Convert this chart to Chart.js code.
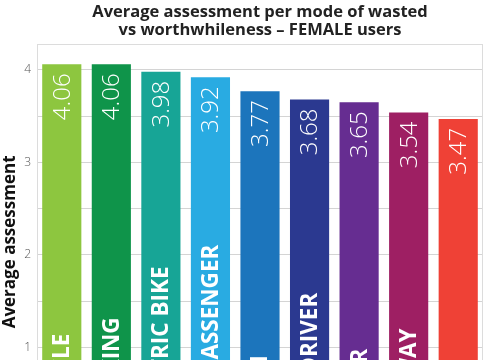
<!DOCTYPE html>
<html>
<head>
<meta charset="utf-8">
<script src="https://cdn.jsdelivr.net/npm/chart.js@4.4.1/dist/chart.umd.min.js"></script>
<style>
  html, body { margin: 0; padding: 0; background: #fff; overflow: hidden; }
  #wrap { width: 485px; height: 453px; position: relative; }
</style>
</head>
<body>
<div id="wrap"><canvas id="chart"></canvas></div>
<script>
// modes, sorted by average assessment
const modes = ["BICYCLE", "WALKING", "ELECTRIC BIKE", "CAR PASSENGER", "TRAIN", "CAR DRIVER", "OTHER", "SUBWAY", "BUS"];
const averages = [4.06, 4.06, 3.98, 3.92, 3.77, 3.68, 3.65, 3.54, 3.47];
const barColors = ["#8dc63f", "#0f944a", "#17a596", "#29abe2", "#1c75bc", "#2b3990", "#662d91", "#9e1f63", "#ef4136"];
const titleLines = ["Average assessment per mode of wasted", "vs worthwhileness \u2013 FEMALE users"];
const yMin = 0;
const yMax = 4.28;
const yStep = 0.5;

// title centred over the plot area, plus a light box around the plot
const framePlugin = {
  id: "frame",
  beforeDatasetsDraw(chart) {
    const { ctx, chartArea: a } = chart;
    ctx.save();
    ctx.strokeStyle = "#dcdcdc";
    ctx.lineWidth = 1;
    ctx.strokeRect(a.left + 0.5, a.top + 0.5, a.right - a.left - 1, a.bottom - a.top);
    ctx.restore();
  },
  afterDraw(chart) {
    const { ctx, chartArea: a } = chart;
    ctx.save();
    ctx.fillStyle = "#222";
    ctx.textAlign = "center";
    ctx.textBaseline = "alphabetic";
    ctx.font = 'bold 16.5px "Open Sans"';
    const cx = (a.left + a.right) / 2;
    titleLines.forEach((line, i) => ctx.fillText(line, cx, 16.5 + i * 18));
    ctx.restore();
  },
};

// value at the top and mode name at the bottom, both rotated, inside each bar
const barTextPlugin = {
  id: "barText",
  afterDatasetsDraw(chart) {
    const { ctx } = chart;
    const meta = chart.getDatasetMeta(0);
    ctx.save();
    ctx.fillStyle = "#ffffff";
    ctx.textBaseline = "middle";
    meta.data.forEach((bar, i) => {
      // value
      ctx.save();
      ctx.translate(bar.x, bar.y + 9);
      ctx.rotate(-Math.PI / 2);
      ctx.textAlign = "right";
      ctx.font = '300 24px "Open Sans"';
      ctx.fillText(averages[i].toFixed(2), 0, 1);
      ctx.restore();
      // mode
      ctx.save();
      ctx.translate(bar.x, bar.base - 15);
      ctx.rotate(-Math.PI / 2);
      ctx.textAlign = "left";
      ctx.font = 'bold 22.5px "Open Sans"';
      ctx.fillText(modes[i], 0, 1);
      ctx.restore();
    });
    ctx.restore();
  },
};

new Chart(document.getElementById("chart"), {
  type: "bar",
  data: {
    labels: modes,
    datasets: [
      {
        label: "Average assessment",
        data: averages,
        backgroundColor: barColors,
        borderWidth: 0,
        categoryPercentage: 1,
        barPercentage: 0.79,
      },
    ],
  },
  options: {
    responsive: true,
    maintainAspectRatio: false,
    animation: false,
    layout: { padding: { top: 44, right: 2, bottom: 6, left: 0 } },
    plugins: {
      legend: { display: false },
      tooltip: { enabled: false },
      title: { display: false },
    },
    scales: {
      x: {
        ticks: { display: false },
        grid: { display: false },
        border: { display: false },
        afterFit: (scale) => { scale.height = 0; },
      },
      y: {
        min: yMin,
        max: yMax,
        afterFit: (scale) => { scale.width = 37; },
        ticks: {
          stepSize: yStep,
          padding: 6,
          color: "#555",
          font: { family: "Open Sans", size: 12, weight: "300" },
          callback: (v) => (Number.isInteger(v) && v > 0 ? v : ""),
        },
        grid: { color: "#d4d4d4", drawTicks: false },
        border: { display: false },
        title: {
          display: true,
          text: "Average assessment",
          color: "#111",
          font: { family: "Open Sans", size: 17, weight: "bold", lineHeight: 1.2 },
          padding: 0,
        },
      },
    },
  },
  plugins: [framePlugin, barTextPlugin],
});
</script>
</body>
</html>
